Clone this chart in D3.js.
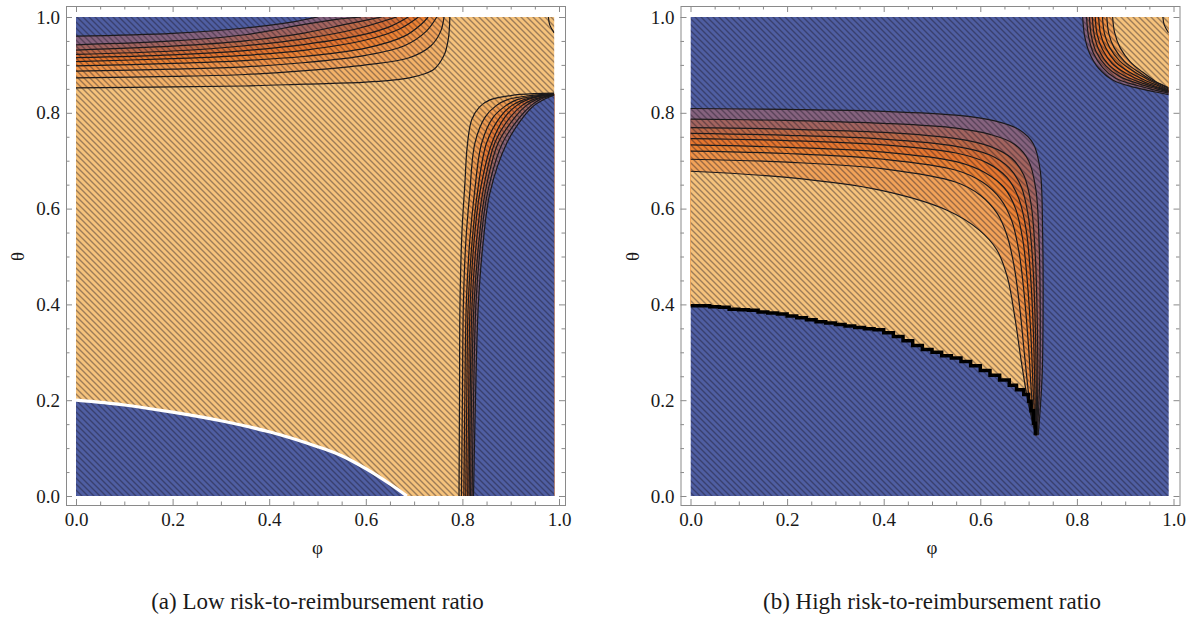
<!DOCTYPE html>
<html>
<head>
<meta charset="utf-8">
<script src="https://cdn.jsdelivr.net/npm/d3@7"></script>
<style>
  body { margin: 0; background: #fff; }
  svg { display: block; }
  svg text { font-family: "Times New Roman", "Liberation Serif", Tinos, Times, "Nimbus Roman", "Nimbus Roman No9 L", FreeSerif, "DejaVu Serif", "Noto Serif", serif !important; }
</style>
</head>
<body>
<svg id="chart" width="1189" height="619"></svg>
<script>
// ticks
const majorTicks = [0, 0.2, 0.4, 0.6, 0.8, 1.0];
const tickLabels = ["0.0", "0.2", "0.4", "0.6", "0.8", "1.0"];
const minorTicks = [0.05, 0.1, 0.15, 0.25, 0.3, 0.35, 0.45, 0.5, 0.55, 0.65, 0.7, 0.75, 0.85, 0.9, 0.95];

// panel (a): blue region bottom-left, white edge
const aBlueEdge = [[0, 0.2], [0.1, 0.19], [0.2, 0.175], [0.3, 0.157], [0.4, 0.134], [0.5, 0.103], [0.55, 0.084], [0.6, 0.057], [0.65, 0.025], [0.685, 0]];

// panel (a): top contour family, inner (t1) -> outer (t10)
const aTop = [
  [[0, 0.96], [0.2, 0.966], [0.35, 0.977], [0.45, 0.99], [0.5, 1.0]],
  [[0, 0.942], [0.2, 0.95], [0.35, 0.963], [0.475, 0.985], [0.54, 0.995], [0.59, 1.0]],
  [[0, 0.931], [0.2, 0.939], [0.35, 0.95], [0.475, 0.967], [0.56, 0.985], [0.633, 1.0]],
  [[0, 0.922], [0.2, 0.929], [0.35, 0.94], [0.475, 0.955], [0.58, 0.975], [0.664, 1.0]],
  [[0, 0.915], [0.2, 0.921], [0.35, 0.93], [0.475, 0.943], [0.59, 0.962], [0.65, 0.98], [0.688, 1.0]],
  [[0, 0.907], [0.2, 0.913], [0.35, 0.92], [0.475, 0.931], [0.6, 0.952], [0.67, 0.975], [0.709, 1.0]],
  [[0, 0.898], [0.2, 0.903], [0.35, 0.909], [0.475, 0.918], [0.6, 0.935], [0.68, 0.96], [0.715, 0.985], [0.729, 1.0]],
  [[0, 0.887], [0.2, 0.891], [0.35, 0.896], [0.475, 0.905], [0.6, 0.92], [0.68, 0.94], [0.725, 0.97], [0.747, 1.0]],
  [[0, 0.873], [0.2, 0.876], [0.35, 0.88], [0.475, 0.888], [0.6, 0.9], [0.69, 0.915], [0.735, 0.94], [0.755, 0.97], [0.762, 1.0]],
  [[0, 0.852], [0.2, 0.854], [0.35, 0.856], [0.475, 0.86], [0.6, 0.864], [0.69, 0.873], [0.74, 0.89], [0.762, 0.92], [0.771, 0.955], [0.774, 1.0]]
];
const aTopFill = ["#4f5ea2", "#85627e", "#a3645f", "#bd6947", "#d66f36", "#e6762e", "#ec8233", "#ef9246", "#f1a258", "#f3b268"];

// panel (a): right contour family, outer (k1) -> inner (k9)
const aRight = [
  [[0.793, 0], [0.794, 0.2], [0.795, 0.4], [0.799, 0.55], [0.805, 0.65], [0.81, 0.73], [0.819, 0.785], [0.835, 0.812], [0.857, 0.827], [0.9, 0.836], [0.95, 0.84], [0.99, 0.841]],
  [[0.798, 0], [0.8, 0.2], [0.802, 0.4], [0.807, 0.53], [0.815, 0.63], [0.826, 0.737], [0.847, 0.791], [0.87, 0.815], [0.892, 0.827], [0.94, 0.836], [0.99, 0.84]],
  [[0.803, 0], [0.805, 0.2], [0.808, 0.4], [0.815, 0.53], [0.825, 0.633], [0.84, 0.737], [0.864, 0.791], [0.89, 0.815], [0.912, 0.827], [0.95, 0.835], [0.99, 0.839]],
  [[0.807, 0], [0.809, 0.2], [0.812, 0.4], [0.82, 0.53], [0.831, 0.633], [0.85, 0.737], [0.878, 0.791], [0.902, 0.815], [0.926, 0.827], [0.96, 0.835], [0.99, 0.839]],
  [[0.811, 0], [0.813, 0.2], [0.816, 0.4], [0.824, 0.53], [0.836, 0.633], [0.861, 0.737], [0.888, 0.791], [0.912, 0.815], [0.936, 0.828], [0.965, 0.835], [0.99, 0.838]],
  [[0.814, 0], [0.816, 0.2], [0.82, 0.4], [0.829, 0.53], [0.842, 0.633], [0.867, 0.737], [0.899, 0.791], [0.923, 0.815], [0.947, 0.828], [0.97, 0.834], [0.99, 0.838]],
  [[0.817, 0], [0.819, 0.2], [0.824, 0.4], [0.834, 0.53], [0.847, 0.633], [0.874, 0.737], [0.909, 0.791], [0.932, 0.815], [0.954, 0.828], [0.975, 0.834], [0.99, 0.838]],
  [[0.82, 0], [0.823, 0.2], [0.828, 0.4], [0.838, 0.53], [0.852, 0.633], [0.883, 0.737], [0.919, 0.791], [0.942, 0.815], [0.961, 0.828], [0.978, 0.834], [0.99, 0.838]],
  [[0.823, 0], [0.827, 0.2], [0.833, 0.4], [0.843, 0.53], [0.857, 0.633], [0.892, 0.737], [0.926, 0.791], [0.948, 0.815], [0.967, 0.827], [0.98, 0.833], [0.99, 0.838]]
];
const aRightFill = ["#f2b063", "#f09c50", "#ec8a3f", "#e67a33", "#d7713a", "#bb6a4a", "#9f6660", "#866378", "#4f5ea2"];

// small line in the top right corner (both panels)
const cornerLine = [[0.978, 1.0], [0.981, 0.983], [0.99, 0.967]];

// panel (b): main contour family, outer (c1) -> inner (c9)
const bMain = [
  [[0, 0.809], [0.2, 0.807], [0.4, 0.803], [0.55, 0.795], [0.63, 0.783], [0.68, 0.765], [0.71, 0.735], [0.724, 0.68], [0.729, 0.55], [0.73, 0.4], [0.728, 0.25], [0.72, 0.127]],
  [[0, 0.787], [0.2, 0.784], [0.4, 0.778], [0.55, 0.768], [0.62, 0.755], [0.67, 0.735], [0.7, 0.7], [0.715, 0.64], [0.722, 0.52], [0.724, 0.38], [0.723, 0.24], [0.718, 0.127]],
  [[0, 0.769], [0.2, 0.766], [0.4, 0.759], [0.55, 0.746], [0.62, 0.73], [0.665, 0.705], [0.69, 0.67], [0.705, 0.61], [0.714, 0.5], [0.718, 0.36], [0.719, 0.23], [0.717, 0.127]],
  [[0, 0.757], [0.2, 0.753], [0.4, 0.745], [0.55, 0.73], [0.62, 0.712], [0.66, 0.685], [0.685, 0.645], [0.7, 0.58], [0.709, 0.48], [0.714, 0.35], [0.716, 0.22], [0.716, 0.127]],
  [[0, 0.746], [0.2, 0.742], [0.4, 0.733], [0.55, 0.716], [0.615, 0.695], [0.655, 0.665], [0.68, 0.62], [0.695, 0.555], [0.704, 0.46], [0.71, 0.34], [0.713, 0.22], [0.715, 0.127]],
  [[0, 0.733], [0.2, 0.728], [0.4, 0.718], [0.55, 0.698], [0.61, 0.675], [0.65, 0.643], [0.673, 0.6], [0.688, 0.535], [0.698, 0.44], [0.705, 0.33], [0.71, 0.21], [0.715, 0.127]],
  [[0, 0.72], [0.2, 0.715], [0.4, 0.703], [0.55, 0.68], [0.605, 0.655], [0.642, 0.62], [0.665, 0.575], [0.68, 0.51], [0.691, 0.42], [0.7, 0.31], [0.707, 0.2], [0.715, 0.127]],
  [[0, 0.703], [0.2, 0.697], [0.4, 0.683], [0.55, 0.655], [0.6, 0.628], [0.635, 0.59], [0.655, 0.545], [0.67, 0.48], [0.682, 0.39], [0.692, 0.29], [0.703, 0.19], [0.715, 0.127]],
  [[0, 0.678], [0.2, 0.665], [0.39, 0.639], [0.53, 0.597], [0.598, 0.555], [0.634, 0.514], [0.656, 0.457], [0.672, 0.37], [0.685, 0.28], [0.7, 0.19], [0.715, 0.127]]
];
const bMainFill = ["#85627e", "#a3645f", "#bd6947", "#d66f36", "#e6762e", "#ec8233", "#ef9246", "#f1a258", "#f5c27b"];

// panel (b): jagged lower edge of the sand region
const bJaggedPhi = [0, 0.02, 0.04, 0.06, 0.08, 0.1, 0.12, 0.14, 0.16, 0.18, 0.2, 0.22, 0.24, 0.26, 0.28, 0.3, 0.32, 0.34, 0.36, 0.38, 0.4, 0.42, 0.44, 0.46, 0.48, 0.5, 0.52, 0.54, 0.56, 0.58, 0.6, 0.62, 0.64, 0.66, 0.675, 0.69, 0.7, 0.705, 0.71, 0.714];
const bJaggedTheta = [0.397, 0.397, 0.395, 0.394, 0.39, 0.389, 0.388, 0.384, 0.382, 0.38, 0.376, 0.372, 0.368, 0.364, 0.361, 0.358, 0.355, 0.352, 0.349, 0.347, 0.341, 0.333, 0.324, 0.314, 0.306, 0.3, 0.293, 0.288, 0.281, 0.272, 0.262, 0.252, 0.242, 0.231, 0.222, 0.212, 0.198, 0.178, 0.152, 0.127];
const bJagged = bJaggedPhi.map((p, i) => [p, bJaggedTheta[i]]);

// panel (b): top right corner family, outer (r1) -> inner (r9)
const bCorner = [
  [[0.812, 1], [0.816, 0.96], [0.826, 0.925], [0.845, 0.893], [0.875, 0.868], [0.92, 0.853], [0.96, 0.844], [0.99, 0.838]],
  [[0.82, 1], [0.824, 0.96], [0.834, 0.925], [0.853, 0.895], [0.88, 0.872], [0.925, 0.857], [0.96, 0.848], [0.99, 0.841]],
  [[0.826, 1], [0.83, 0.96], [0.84, 0.927], [0.86, 0.898], [0.888, 0.876], [0.93, 0.86], [0.965, 0.85], [0.99, 0.843]],
  [[0.832, 1], [0.836, 0.962], [0.846, 0.93], [0.866, 0.9], [0.895, 0.879], [0.935, 0.862], [0.967, 0.852], [0.99, 0.844]],
  [[0.838, 1], [0.842, 0.963], [0.853, 0.932], [0.873, 0.903], [0.902, 0.882], [0.94, 0.864], [0.97, 0.853], [0.99, 0.845]],
  [[0.845, 1], [0.849, 0.965], [0.86, 0.935], [0.88, 0.906], [0.91, 0.884], [0.945, 0.866], [0.972, 0.855], [0.99, 0.846]],
  [[0.853, 1], [0.857, 0.966], [0.868, 0.936], [0.889, 0.908], [0.918, 0.886], [0.95, 0.868], [0.975, 0.856], [0.99, 0.847]],
  [[0.862, 1], [0.866, 0.966], [0.877, 0.936], [0.898, 0.908], [0.926, 0.886], [0.955, 0.868], [0.978, 0.857], [0.99, 0.849]],
  [[0.874, 1], [0.878, 0.968], [0.89, 0.935], [0.91, 0.907], [0.936, 0.885], [0.962, 0.866], [0.98, 0.857], [0.99, 0.852]]
];
const bCornerFill = ["#85627e", "#a3645f", "#bd6947", "#d66f36", "#e6762e", "#ec8233", "#ef9246", "#f1a258", "#f5c27b"];

const blue = "#4f5ea2";
const sand = "#f5c27b";

const svg = d3.select("#chart");
const defs = svg.append("defs");

// hatch overlay
const hatch = defs.append("pattern")
  .attr("id", "hatch")
  .attr("patternUnits", "userSpaceOnUse")
  .attr("width", 6)
  .attr("height", 6);
hatch.append("path")
  .attr("d", "M-1,5 l2,2 M0,0 l6,6 M5,-1 l2,2")
  .attr("stroke", "rgba(25,20,35,0.4)")
  .attr("stroke-width", 1.4);

function makePanel(id, left) {
  const x = d3.scaleLinear().domain([0, 1]).range([left, left + 483]);
  const y = d3.scaleLinear().domain([0, 1]).range([496, 17]);
  const g = svg.append("g");
  defs.append("clipPath").attr("id", "clip-" + id)
    .append("rect")
    .attr("x", x(0)).attr("y", y(1))
    .attr("width", x(0.99) - x(0)).attr("height", y(0) - y(1));
  const plot = g.append("g").attr("clip-path", `url(#clip-${id})`);
  const line = d3.line().x((d) => x(d[0])).y((d) => y(d[1])).curve(d3.curveCatmullRom.alpha(0.5));
  const pt = (a, b) => `L${x(a)},${y(b)}`;
  return { id, left, x, y, g, plot, line, pt };
}

function hatchRect(p) {
  p.plot.append("rect")
    .attr("x", p.x(0)).attr("y", p.y(1))
    .attr("width", p.x(1) - p.x(0)).attr("height", p.y(0) - p.y(1))
    .attr("fill", "url(#hatch)");
}

function strokeLines(p, sel, data) {
  sel.selectAll("path").data(data).join("path")
    .attr("d", p.line)
    .attr("fill", "none")
    .attr("stroke", "#1c1a1c")
    .attr("stroke-width", 1.2);
}

function drawFrame(p, caption) {
  const fx0 = p.left - 10, fx1 = p.left + 489, fy0 = 6, fy1 = 505;
  const axes = [
    [d3.axisBottom(p.x), `translate(0,${fy1})`, 8],
    [d3.axisTop(p.x), `translate(0,${fy0})`, 0],
    [d3.axisLeft(p.y), `translate(${fx0},0)`, 6],
    [d3.axisRight(p.y), `translate(${fx1},0)`, 0]
  ];
  axes.forEach(([axis, tr, pad]) => {
    const major = p.g.append("g").attr("transform", tr)
      .call(axis.tickValues(majorTicks).tickSize(-6).tickPadding(pad)
        .tickFormat((d, i) => (pad ? tickLabels[i] : "")));
    major.attr("font-size", 19).attr("font-family", null);
    major.select(".domain").remove();
    major.selectAll("line").attr("stroke", "#8a8a8a");
    major.selectAll("text").attr("fill", "#1a1a1a");
    const minor = p.g.append("g").attr("transform", tr)
      .call(axis.tickValues(minorTicks).tickSize(-3.5).tickFormat(""));
    minor.select(".domain").remove();
    minor.selectAll("line").attr("stroke", "#8a8a8a");
  });
  p.g.append("rect")
    .attr("x", fx0 + 0.5).attr("y", fy0 + 0.5)
    .attr("width", fx1 - fx0).attr("height", fy1 - fy0)
    .attr("fill", "none").attr("stroke", "#8a8a8a");

  const cx = (p.x(0) + p.x(1)) / 2;
  p.g.append("text")
    .attr("x", cx).attr("y", 554)
    .attr("text-anchor", "middle")
    .attr("font-size", 19).attr("fill", "#1a1a1a")
    .text("φ");
  p.g.append("text")
    .attr("transform", `translate(${p.left - 52},${(p.y(0) + p.y(1)) / 2}) rotate(-90)`)
    .attr("text-anchor", "middle")
    .attr("font-size", 19).attr("fill", "#1a1a1a")
    .text("θ");
  p.g.append("text")
    .attr("x", cx).attr("y", 609)
    .attr("text-anchor", "middle")
    .attr("font-size", 23).attr("fill", "#1a1a1a")
    .text(caption);
}

// ---------- panel (a)
const pa = makePanel("a", 76);
pa.plot.append("rect")
  .attr("x", pa.x(0)).attr("y", pa.y(1))
  .attr("width", pa.x(1) - pa.x(0)).attr("height", pa.y(0) - pa.y(1))
  .attr("fill", sand);

// top family: outer first
for (let i = aTop.length - 1; i >= 0; i--) {
  const c = aTop[i];
  pa.plot.append("path")
    .attr("d", pa.line(c) + pa.pt(c[c.length - 1][0], 1.02) + pa.pt(-0.02, 1.02) + pa.pt(-0.02, c[0][1]) + "Z")
    .attr("fill", aTopFill[i]);
}
// right family: outer first
aRight.forEach((c, i) => {
  pa.plot.append("path")
    .attr("d", pa.line(c) + pa.pt(1.02, c[c.length - 1][1]) + pa.pt(1.02, -0.02) + pa.pt(c[0][0], -0.02) + "Z")
    .attr("fill", aRightFill[i]);
});
// bottom-left blue
pa.plot.append("path")
  .attr("d", pa.line(aBlueEdge) + pa.pt(0.685, -0.02) + pa.pt(-0.02, -0.02) + pa.pt(-0.02, 0.2) + "Z")
  .attr("fill", blue);

hatchRect(pa);
strokeLines(pa, pa.plot.append("g"), aTop.concat(aRight, [cornerLine]));
pa.plot.append("path")
  .attr("d", pa.line(aBlueEdge))
  .attr("fill", "none").attr("stroke", "#fff").attr("stroke-width", 3.2);
drawFrame(pa, "(a) Low risk-to-reimbursement ratio");

// ---------- panel (b)
const pb = makePanel("b", 690.5);
pb.plot.append("rect")
  .attr("x", pb.x(0)).attr("y", pb.y(1))
  .attr("width", pb.x(1) - pb.x(0)).attr("height", pb.y(0) - pb.y(1))
  .attr("fill", blue);

const stepLine = d3.line().x((d) => pb.x(d[0])).y((d) => pb.y(d[1])).curve(d3.curveStepAfter);
defs.append("clipPath").attr("id", "clip-jag")
  .append("path")
  .attr("d", stepLine(bJagged) + pb.pt(1.02, 0.127) + pb.pt(1.02, 1.02) + pb.pt(-0.02, 1.02) + pb.pt(-0.02, 0.397) + "Z");
const bands = pb.plot.append("g").attr("clip-path", "url(#clip-jag)");
bMain.forEach((c, i) => {
  bands.append("path")
    .attr("d", pb.line(c) + pb.pt(c[c.length - 1][0], -0.05) + pb.pt(-0.02, -0.05) + pb.pt(-0.02, c[0][1]) + "Z")
    .attr("fill", bMainFill[i]);
});
bCorner.forEach((c, i) => {
  pb.plot.append("path")
    .attr("d", pb.line(c) + pb.pt(1.02, c[c.length - 1][1]) + pb.pt(1.02, 1.02) + pb.pt(c[0][0], 1.02) + "Z")
    .attr("fill", bCornerFill[i]);
});

hatchRect(pb);
strokeLines(pb, pb.plot.append("g"), bMain.concat(bCorner, [cornerLine]));
pb.plot.append("path")
  .attr("d", stepLine(bJagged))
  .attr("fill", "none").attr("stroke", "#000").attr("stroke-width", 3.5);
drawFrame(pb, "(b) High risk-to-reimbursement ratio");
</script>
</body>
</html>
